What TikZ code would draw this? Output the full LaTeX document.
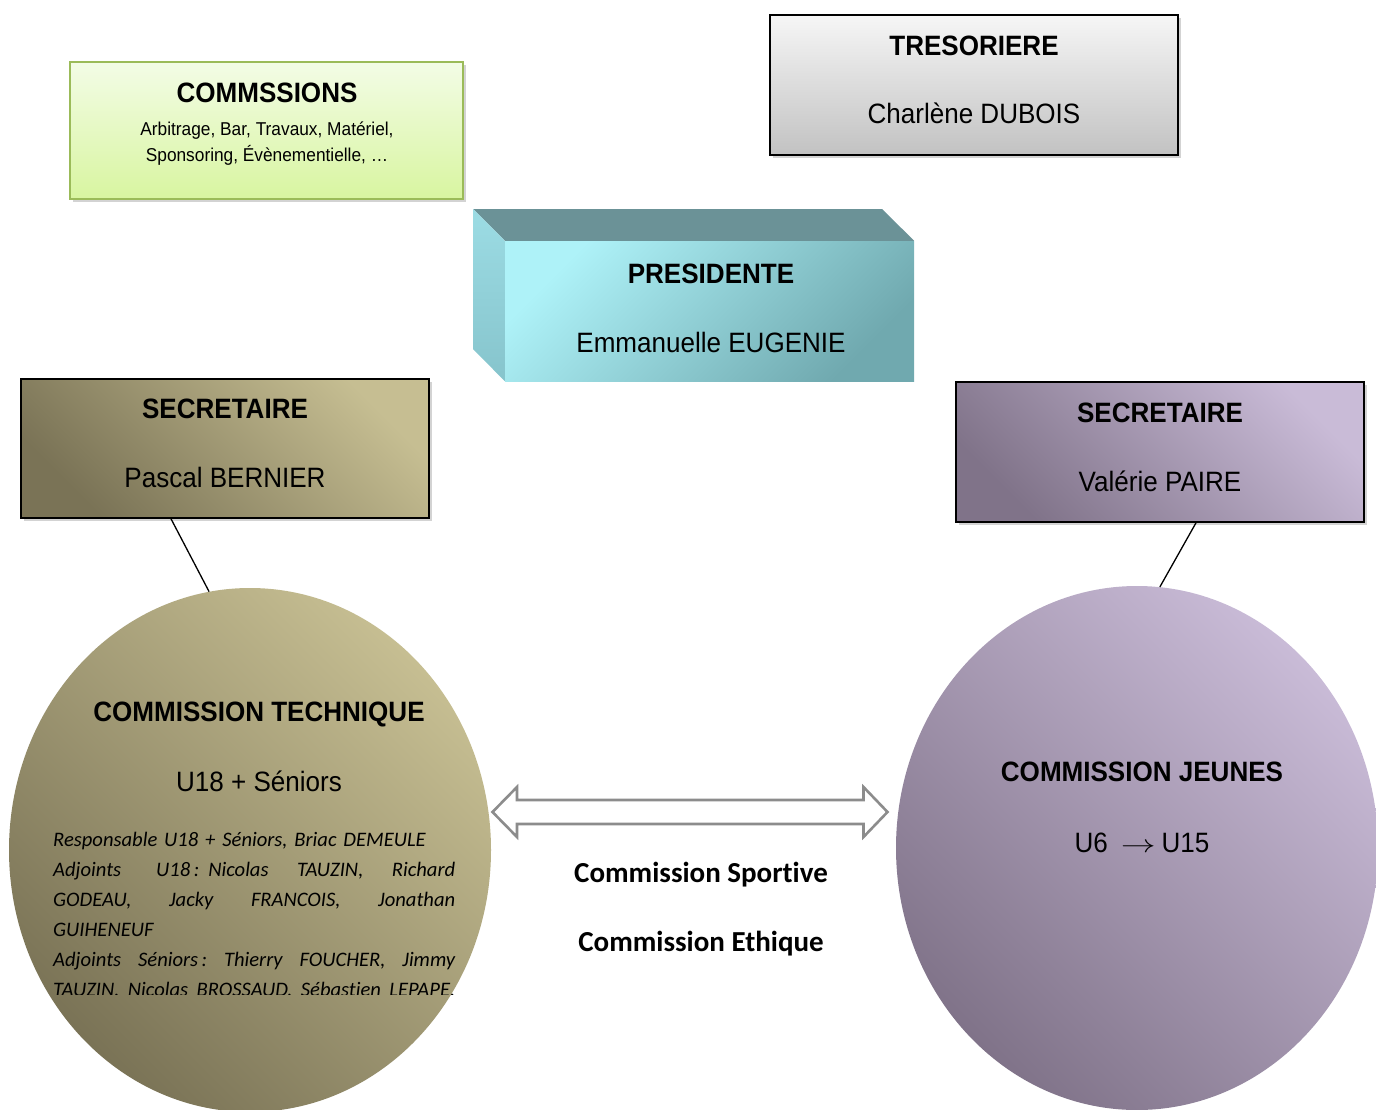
\documentclass[tikz,border=0pt]{standalone}
\usepackage{fontspec}
\usepackage{graphicx}
\newfontfamily\arnfont{Liberation Sans}[FakeStretch=0.93]
\newfontfamily\calfont{Carlito}[Ligatures=NoCommon]
\usetikzlibrary{shapes.geometric,shadows}
\definecolor{grnT}{HTML}{F3FCE6}
\definecolor{grnB}{HTML}{D8F5A0}
\definecolor{grnD}{HTML}{9BBB59}
\definecolor{gryT}{HTML}{F6F6F6}
\definecolor{gryB}{HTML}{C2C2C2}
\definecolor{presL}{HTML}{AEF2F8}
\definecolor{presD}{HTML}{70A9AF}
\definecolor{presTop}{HTML}{6B9297}
\definecolor{presSideT}{HTML}{9CDCE4}
\definecolor{presSideB}{HTML}{86C4CC}
\definecolor{olvL}{HTML}{C6BE92}
\definecolor{olvD}{HTML}{7A7356}
\definecolor{lilL}{HTML}{C9BBD7}
\definecolor{lilD}{HTML}{807389}
\definecolor{arrG}{HTML}{8C8C8C}
\newcommand{\jline}[1]{\leavevmode\hbox to 402pt{#1}}
\begin{document}
\begin{tikzpicture}[x=1pt,y=-1pt,
  box/.style={rectangle, inner sep=0, line width=1.6pt,
    drop shadow={shadow xshift=3pt, shadow yshift=-3pt, opacity=0.35}},
  ttl/.style={font=\arnfont\bfseries\fontsize{28}{34}\selectfont, anchor=base, inner sep=0},
  nm/.style={font=\arnfont\fontsize{28}{34}\selectfont, anchor=base, inner sep=0},
  sm/.style={font=\arnfont\fontsize{18.6}{23}\selectfont, anchor=base, inner sep=0},
  cb/.style={font=\calfont\bfseries\fontsize{29}{34}\selectfont, anchor=base, inner sep=0},
  blob/.style={ellipse, inner sep=0, minimum width=482pt, minimum height=524pt},
  link/.style={draw=black, line width=1.3pt}
]
\useasboundingbox (0,0) rectangle (1376,1109);
\clip (0,0) rectangle (1376,1109);

% COMMISSIONS box
\node[box, draw=grnD, top color=grnT, bottom color=grnB,
  minimum width=393pt, minimum height=137pt] (comm) at (266.5,130.5) {};
\node[ttl] (commT) at (267,102) {COMMSSIONS};
\node[sm] (commA) at (267,135) {Arbitrage, Bar, Travaux, Matériel,};
\node[sm] (commB) at (267,161) {Sponsoring, Évènementielle, …};

% TRESORIERE box
\node[box, draw=black, top color=gryT, bottom color=gryB,
  minimum width=408pt, minimum height=140pt] (treso) at (974,85) {};
\node[ttl] (tresoT) at (974,55) {TRESORIERE};
\node[nm] (tresoN) at (974,123) {Charlène DUBOIS};

% PRESIDENTE 3D box
\node[rectangle, inner sep=0, minimum width=409pt, minimum height=140pt,
  top color=presL, bottom color=presD, shading angle=45] (pres) at (709.5,311) {};
\coordinate (pA) at (473,209);
\coordinate (pB) at (882,209);
\coordinate (pC) at (473,349);
\fill[presTop] (pA) -- (pB) -- (pres.north east) -- (pres.north west) -- cycle;
\shade[top color=presSideT, bottom color=presSideB] (pA) -- (pres.north west) -- (pres.south west) -- (pC) -- cycle;
\node[ttl] (presT) at (711,283) {PRESIDENTE};
\node[nm] (presN) at (711,352) {Emmanuelle EUGENIE};

% SECRETAIRE left
\node[box, draw=black, top color=olvL, bottom color=olvD, shading angle=-45,
  minimum width=408pt, minimum height=139pt] (secL) at (225,448.5) {};
\node[ttl] (secLT) at (225,418) {SECRETAIRE};
\node[nm] (secLN) at (225,487) {Pascal BERNIER};

% SECRETAIRE right
\node[box, draw=black, top color=lilL, bottom color=lilD, shading angle=-45,
  minimum width=408pt, minimum height=140pt] (secR) at (1160,452) {};
\node[ttl] (secRT) at (1160,422) {SECRETAIRE};
\node[nm] (secRN) at (1160,491) {Valérie PAIRE};

% Commission technique
\node[blob, top color=olvL, bottom color=olvD, shading angle=-45] (tech) at (250,850) {};
\node[ttl] (techT) at (259,721) {COMMISSION TECHNIQUE};
\node[nm] (techS) at (259,791) {U18 + Séniors};
\begin{scope}
\clip (30,825) rectangle (480,994);
\node[anchor=north west, inner sep=0, text width=402pt, align=left,
  font=\calfont\itshape\fontsize{20.6}{30}\selectfont] (techL) at (53,832)
  {Responsable U18 + Séniors, Briac DEMEULE\\
   \jline{Adjoints\hspace{35pt}U18\,:\hspace{9pt}Nicolas\hfill TAUZIN,\hfill Richard}\\
   \jline{GODEAU,\hfill Jacky\hfill FRANCOIS,\hfill Jonathan}\\
   GUIHENEUF\\
   \jline{Adjoints\hfill Séniors\,:\hfill Thierry\hfill FOUCHER,\hfill Jimmy}\\
   \jline{TAUZIN,\hfill Nicolas\hfill BROSSAUD,\hfill Sébastien\hfill LEPAPE,}};
\end{scope}

% Commission jeunes
\node[blob, top color=lilL, bottom color=lilD, shading angle=-45] (jeunes) at (1137,848) {};
\node[ttl] (jeunesT) at (1142,781) {COMMISSION JEUNES};
\node[nm] (jeunesS) at (1142,852) {U6\hspace{13pt}\scalebox{1.4}[1]{$\rightarrow$}\hspace{6pt}U15};

% connectors
\draw[link] ([xshift=-54pt]secL.south) -- (tech.99);
\draw[link] ([xshift=36pt]secR.south) -- (jeunes.85);

% double block arrow
\draw[draw=arrG, fill=white, line width=2.6pt, line join=miter]
  (492.5,812) -- (517,787) -- (517,800) -- (863.5,800) -- (863.5,787) -- (887.5,812)
  -- (863.5,837) -- (863.5,824) -- (517,824) -- (517,837) -- cycle;

\node[cb] (sport) at (701,882) {Commission Sportive};
\node[cb] (ethic) at (701,951) {Commission Ethique};
\end{tikzpicture}
\end{document}
